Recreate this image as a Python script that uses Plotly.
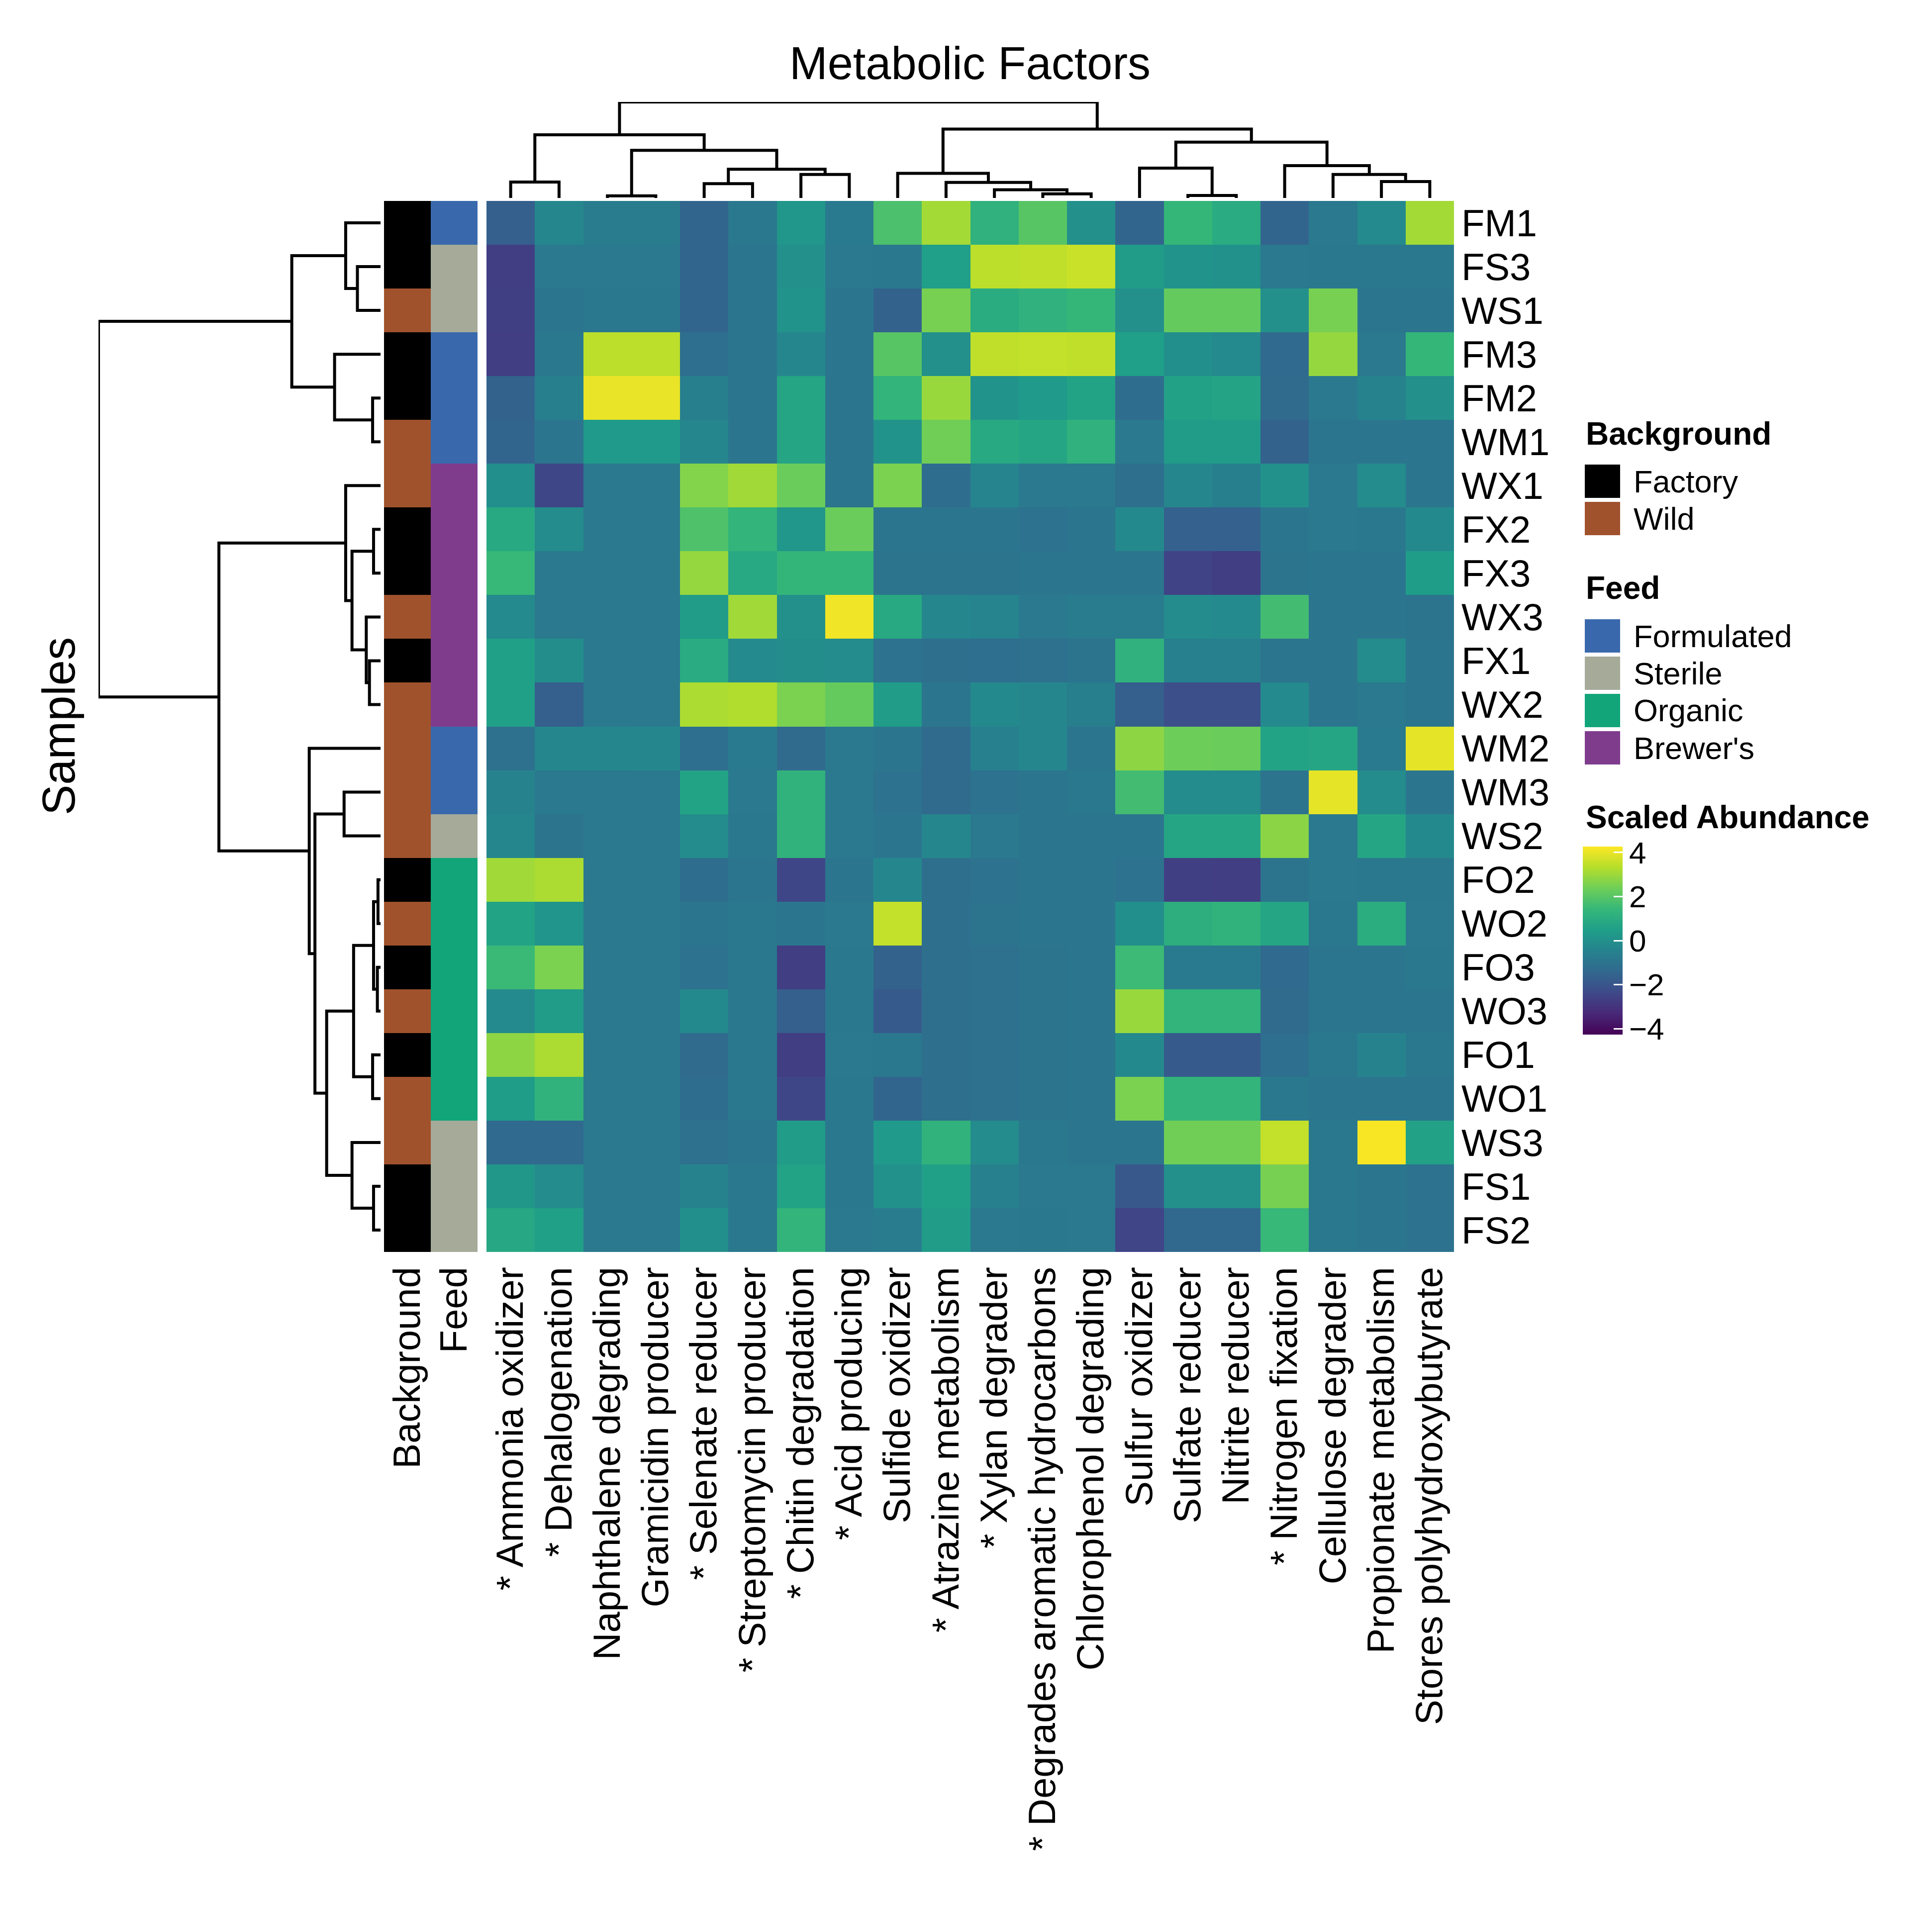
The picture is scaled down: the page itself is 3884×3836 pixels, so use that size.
import plotly.graph_objects as go

# ---------------- data ----------------
samples = ["FM1", "FS3", "WS1", "FM3", "FM2", "WM1", "WX1", "FX2", "FX3", "WX3", "FX1", "WX2",
           "WM2", "WM3", "WS2", "FO2", "WO2", "FO3", "WO3", "FO1", "WO1", "WS3", "FS1", "FS2"]

factors = ["* Ammonia oxidizer", "* Dehalogenation", "Naphthalene degrading", "Gramicidin producer",
           "* Selenate reducer", "* Streptomycin producer", "* Chitin degradation", "* Acid producing",
           "Sulfide oxidizer", "* Atrazine metabolism", "* Xylan degrader",
           "* Degrades aromatic hydrocarbons", "Chlorophenol degrading", "Sulfur oxidizer",
           "Sulfate reducer", "Nitrite reducer", "* Nitrogen fixation", "Cellulose degrader",
           "Propionate metabolism", "Stores polyhydroxybutyrate"]

background = ["Factory", "Factory", "Wild", "Factory", "Factory", "Wild", "Wild", "Factory", "Factory",
              "Wild", "Factory", "Wild", "Wild", "Wild", "Wild", "Factory", "Wild", "Factory", "Wild",
              "Factory", "Wild", "Wild", "Factory", "Factory"]

feed = ["Formulated", "Sterile", "Sterile", "Formulated", "Formulated", "Formulated", "Brewer's",
        "Brewer's", "Brewer's", "Brewer's", "Brewer's", "Brewer's", "Formulated", "Formulated",
        "Sterile", "Organic", "Organic", "Organic", "Organic", "Organic", "Organic", "Sterile",
        "Sterile", "Sterile"]

background_levels = ["Factory", "Wild"]
background_colors = ["#000000", "#A0522D"]
feed_levels = ["Formulated", "Sterile", "Organic", "Brewer's"]
feed_colors = ["#3969AC", "#A5AA99", "#11A579", "#7F3C8D"]

scaled_abundance = [
    [-1.70, -0.30, -0.70, -0.70, -1.50, -0.85, 0.20, -0.75, 1.80, 3.10, 1.20, 2.00, 0.00, -1.50, 1.40, 0.95, -1.50, -0.80, -0.20, 3.10],
    [-2.70, -0.80, -0.80, -0.80, -1.50, -0.90, 0.00, -0.80, -0.85, 0.50, 3.40, 3.45, 3.60, 0.40, 0.10, 0.05, -0.80, -0.85, -0.85, -0.85],
    [-2.65, -0.90, -0.85, -0.85, -1.50, -0.90, 0.10, -0.90, -1.60, 2.50, 1.00, 1.20, 1.40, 0.00, 2.20, 2.20, 0.00, 2.50, -0.90, -0.90],
    [-2.70, -0.85, 3.40, 3.40, -1.20, -0.90, -0.30, -0.90, 2.00, 0.00, 3.45, 3.50, 3.45, 0.50, -0.05, -0.20, -1.35, 2.90, -0.80, 1.40],
    [-1.60, -0.60, 4.00, 4.00, -0.60, -0.90, 0.75, -0.90, 1.30, 2.95, 0.10, 0.35, 0.65, -1.25, 0.60, 0.70, -1.30, -0.80, -0.45, 0.00],
    [-1.50, -0.90, 0.35, 0.35, -0.35, -0.90, 0.75, -0.90, 0.10, 2.40, 0.90, 0.75, 1.20, -0.80, 0.40, 0.40, -1.60, -0.90, -0.90, -0.90],
    [-0.05, -2.45, -0.80, -0.80, 2.65, 3.05, 2.30, -0.90, 2.55, -1.25, -0.40, -0.80, -0.80, -1.15, -0.35, -0.60, 0.05, -0.80, -0.15, -0.90],
    [0.90, -0.15, -0.80, -0.80, 1.85, 1.30, 0.20, 2.30, -0.90, -0.95, -0.90, -1.05, -0.95, -0.25, -1.65, -1.65, -0.90, -0.80, -0.85, -0.25],
    [1.45, -0.80, -0.80, -0.80, 2.90, 0.85, 1.35, 1.35, -1.00, -1.00, -1.00, -0.95, -0.95, -0.95, -2.55, -2.70, -1.00, -0.90, -0.90, 0.45],
    [-0.20, -0.80, -0.80, -0.80, 0.40, 3.05, 0.00, 4.10, 0.90, -0.35, -0.40, -0.80, -0.70, -0.70, -0.15, -0.20, 1.65, -0.90, -0.90, -1.00],
    [0.55, -0.10, -0.80, -0.80, 0.95, -0.20, -0.10, -0.15, -1.05, -1.15, -1.20, -1.10, -1.00, 1.20, -0.55, -0.55, -0.95, -0.90, -0.15, -0.95],
    [0.55, -1.70, -0.80, -0.80, 3.20, 3.25, 2.55, 2.20, 0.40, -0.90, -0.25, -0.30, -0.60, -1.70, -2.20, -2.20, -0.20, -0.90, -0.80, -0.95],
    [-1.10, -0.35, -0.35, -0.30, -1.20, -0.75, -1.30, -0.80, -0.95, -1.30, -0.55, -0.35, -0.90, 2.80, 2.35, 2.30, 0.65, 0.75, -0.75, 3.95],
    [-0.45, -0.80, -0.80, -0.80, 0.65, -0.80, 1.25, -0.80, -1.05, -1.30, -1.05, -0.95, -0.85, 1.65, -0.15, -0.15, -1.00, 3.95, -0.15, -0.90],
    [-0.35, -1.00, -0.80, -0.80, -0.15, -0.85, 1.25, -0.80, -0.90, -0.35, -0.80, -0.90, -0.90, -0.90, 0.75, 0.75, 2.75, -0.80, 0.75, -0.25],
    [3.05, 3.20, -0.80, -0.80, -1.25, -0.90, -2.45, -0.90, -0.30, -1.15, -1.05, -0.95, -0.90, -1.05, -2.65, -2.70, -1.00, -0.80, -0.85, -0.85],
    [0.65, 0.15, -0.80, -0.80, -0.90, -0.85, -0.90, -0.80, 3.50, -1.15, -1.00, -0.95, -0.90, -0.05, 1.10, 1.25, 0.75, -0.85, 1.05, -0.80],
    [1.50, 2.55, -0.80, -0.80, -1.05, -0.85, -2.70, -0.85, -1.60, -1.15, -1.10, -1.00, -0.90, 1.55, -0.75, -0.75, -1.35, -0.90, -0.90, -0.85],
    [-0.20, 0.40, -0.80, -0.80, -0.25, -0.85, -1.70, -0.85, -1.85, -1.15, -1.10, -1.00, -0.95, 2.95, 1.30, 1.30, -1.30, -0.90, -0.90, -0.90],
    [2.80, 3.20, -0.80, -0.80, -1.30, -0.85, -2.70, -0.80, -0.85, -1.15, -1.10, -1.00, -0.95, -0.25, -1.85, -1.85, -1.20, -0.85, -0.45, -0.85],
    [0.45, 1.25, -0.80, -0.80, -1.25, -0.85, -2.45, -0.85, -1.50, -1.15, -1.10, -1.00, -0.95, 2.55, 1.30, 1.30, -0.85, -0.90, -0.90, -0.90],
    [-1.35, -1.35, -0.80, -0.80, -1.10, -0.95, 0.40, -0.85, 0.35, 1.25, -0.15, -0.85, -0.90, -0.95, 2.40, 2.40, 3.50, -0.85, 4.20, 0.60],
    [0.25, -0.15, -0.80, -0.80, -0.45, -0.85, 0.65, -0.85, 0.05, 0.55, -0.55, -0.80, -0.80, -1.90, 0.00, 0.00, 2.50, -0.85, -0.90, -1.05],
    [0.80, 0.55, -0.80, -0.80, -0.05, -0.85, 1.30, -0.80, -0.70, 0.40, -0.80, -0.85, -0.80, -2.50, -1.40, -1.40, 1.45, -0.85, -0.90, -1.05],
]

# hierarchical clustering merges (scipy-linkage style: node n+k is merge k), heights
row_merges = [
    [1, 2, 0.73], [0, 24, 1.10], [4, 5, 0.25], [3, 26, 1.45], [25, 27, 2.80],
    [7, 8, 0.22], [10, 11, 0.35], [9, 30, 0.45], [29, 31, 0.90], [6, 32, 1.10],
    [13, 14, 1.15], [15, 16, 0.08], [17, 18, 0.10], [35, 36, 0.22], [19, 20, 0.25],
    [37, 38, 0.85], [22, 23, 0.22], [21, 40, 0.90], [39, 41, 1.70], [34, 42, 2.07],
    [12, 43, 2.25], [33, 44, 5.10], [28, 45, 8.90],
]
col_merges = [
    [0, 1, 0.97], [2, 3, 0.13], [4, 5, 0.87], [6, 7, 1.43], [22, 23, 1.75],
    [21, 24, 2.90], [20, 25, 3.85], [11, 12, 0.25], [10, 27, 0.50], [9, 28, 0.95],
    [8, 29, 1.50], [14, 15, 0.15], [13, 31, 1.82], [18, 19, 1.00], [17, 33, 1.43],
    [16, 34, 1.97], [32, 35, 3.40], [30, 36, 4.20], [26, 37, 5.85],
]

colorbar_ticks = [-4, -2, 0, 2, 4]
color_min, color_max = -4.27, 4.27

# ---------------- layout helpers ----------------
W, H = 3884, 3836
OFF = 8  # default page margin of the browser
FONT = "Liberation Sans, Arial, Helvetica, sans-serif"


def fx(p):
    return (p - OFF) / W


def fy(p):
    return 1 - (p - OFF) / H


def dendro_segments(merges, n):
    pos = {i: float(i) for i in range(n)}
    hgt = {i: 0.0 for i in range(n)}
    a_list, b_list = [], []
    for k, (a, b, h) in enumerate(merges):
        node = n + k
        a_list += [pos[a], pos[a], pos[b], pos[b], None]
        b_list += [hgt[a], h, h, hgt[b], None]
        pos[node] = (pos[a] + pos[b]) / 2
        hgt[node] = h
    return a_list, b_list


n_rows, n_cols = len(samples), len(factors)

fig = go.Figure()

# main heatmap
fig.add_trace(go.Heatmap(
    z=scaled_abundance, x=list(range(n_cols)), y=list(range(n_rows)),
    colorscale="Viridis", zmin=color_min, zmax=color_max, hoverinfo="skip",
    xaxis="x", yaxis="y",
    colorbar=dict(
        x=fx(3182), xanchor="left", xpad=0,
        y=fy(1702), yanchor="top", ypad=0,
        len=378, lenmode="pixels", thickness=80, thicknessmode="pixels",
        outlinewidth=0,
        tickvals=colorbar_ticks,
        ticktext=[str(t).replace("-", "\u2212") for t in colorbar_ticks],
        ticks="inside", ticklen=18, tickwidth=3, tickcolor="white",
        tickfont=dict(family=FONT, size=62, color="black"),
    ),
))

# annotation columns (Background, Feed)
ann_levels = background_levels + feed_levels
ann_colors = background_colors + feed_colors
ann_z = [[ann_levels.index(background[i]), ann_levels.index(feed[i])] for i in range(n_rows)]
nl = len(ann_levels)
ann_scale = []
for k, c in enumerate(ann_colors):
    ann_scale.append([k / nl, c])
    ann_scale.append([(k + 1) / nl, c])
fig.add_trace(go.Heatmap(
    z=ann_z, x=[0, 1], y=list(range(n_rows)), colorscale=ann_scale,
    zmin=-0.5, zmax=nl - 0.5, showscale=False, hoverinfo="skip",
    xaxis="x2", yaxis="y",
))

# row dendrogram
rx, ry = dendro_segments(row_merges, n_rows)
fig.add_trace(go.Scatter(x=ry, y=rx, mode="lines", line=dict(color="black", width=6),
                         hoverinfo="skip", showlegend=False, xaxis="x3", yaxis="y"))
# column dendrogram
cx, cy = dendro_segments(col_merges, n_cols)
fig.add_trace(go.Scatter(x=cx, y=cy, mode="lines", line=dict(color="black", width=6),
                         hoverinfo="skip", showlegend=False, xaxis="x", yaxis="y2"))

row_root = max(m[2] for m in row_merges)
col_root = max(m[2] for m in col_merges)

label_font = dict(family=FONT, size=76, color="black")

fig.update_layout(
    width=W, height=H, margin=dict(l=0, r=0, t=0, b=0),
    paper_bgcolor="white", plot_bgcolor="white", showlegend=False,
    font=dict(family=FONT, color="black"),
    xaxis=dict(domain=[fx(978), fx(2923)], range=[-0.5, n_cols - 0.5], anchor="y",
               tickvals=list(range(n_cols)), ticktext=factors, tickangle=-90,
               ticks="", showgrid=False, zeroline=False, showline=False,
               tickfont=label_font, ticklabelstandoff=14),
    yaxis=dict(domain=[fy(2517), fy(404)], range=[n_rows - 0.5, -0.5], anchor="x",
               side="right", tickvals=list(range(n_rows)), ticktext=samples,
               ticks="", showgrid=False, zeroline=False, showline=False,
               tickfont=label_font, ticklabelstandoff=14),
    xaxis2=dict(domain=[fx(772), fx(960)], range=[-0.5, 1.5], anchor="y",
                tickvals=[0, 1], ticktext=["Background", "Feed"], tickangle=-90,
                ticks="", showgrid=False, zeroline=False, showline=False,
                tickfont=label_font, ticklabelstandoff=14),
    xaxis3=dict(domain=[fx(198), fx(765)], range=[row_root, 0], anchor="y",
                visible=False),
    yaxis2=dict(domain=[fy(398), fy(205)], range=[0, col_root], anchor="x",
                visible=False),
)

annotations = [
    dict(text="Metabolic Factors", x=fx(1950), y=fy(127), xref="paper", yref="paper",
         xanchor="center", yanchor="middle", showarrow=False,
         font=dict(family=FONT, size=92, color="black")),
    dict(text="Samples", x=fx(118), y=fy(1460), xref="paper", yref="paper",
         xanchor="center", yanchor="middle", showarrow=False, textangle=-90,
         font=dict(family=FONT, size=92, color="black")),
]
shapes = []

title_font = dict(family=FONT, size=64, color="black")
item_font = dict(family=FONT, size=63, color="black")
leg_x0 = 3186
sw_w, sw_h, step = 71, 67, 75


def legend_block(title, levels, colors, title_cy, first_top):
    annotations.append(dict(text="<b>" + title + "</b>", x=fx(leg_x0), y=fy(title_cy),
                            xref="paper", yref="paper", xanchor="left", yanchor="middle",
                            showarrow=False, font=title_font))
    for k, (lv, c) in enumerate(zip(levels, colors)):
        top = first_top + k * step
        shapes.append(dict(type="rect", xref="paper", yref="paper",
                           x0=fx(leg_x0), x1=fx(leg_x0 + sw_w), y0=fy(top + sw_h), y1=fy(top),
                           fillcolor=c, line=dict(width=0)))
        annotations.append(dict(text=lv, x=fx(3282), y=fy(top + sw_h / 2),
                                xref="paper", yref="paper", xanchor="left", yanchor="middle",
                                showarrow=False, font=item_font))


legend_block("Background", background_levels, background_colors, 872, 934)
legend_block("Feed", feed_levels, feed_colors, 1182, 1245)
annotations.append(dict(text="<b>Scaled Abundance</b>", x=fx(leg_x0), y=fy(1643),
                        xref="paper", yref="paper", xanchor="left", yanchor="middle",
                        showarrow=False, font=title_font))

fig.update_layout(annotations=annotations, shapes=shapes)

fig.write_html("out.html")
